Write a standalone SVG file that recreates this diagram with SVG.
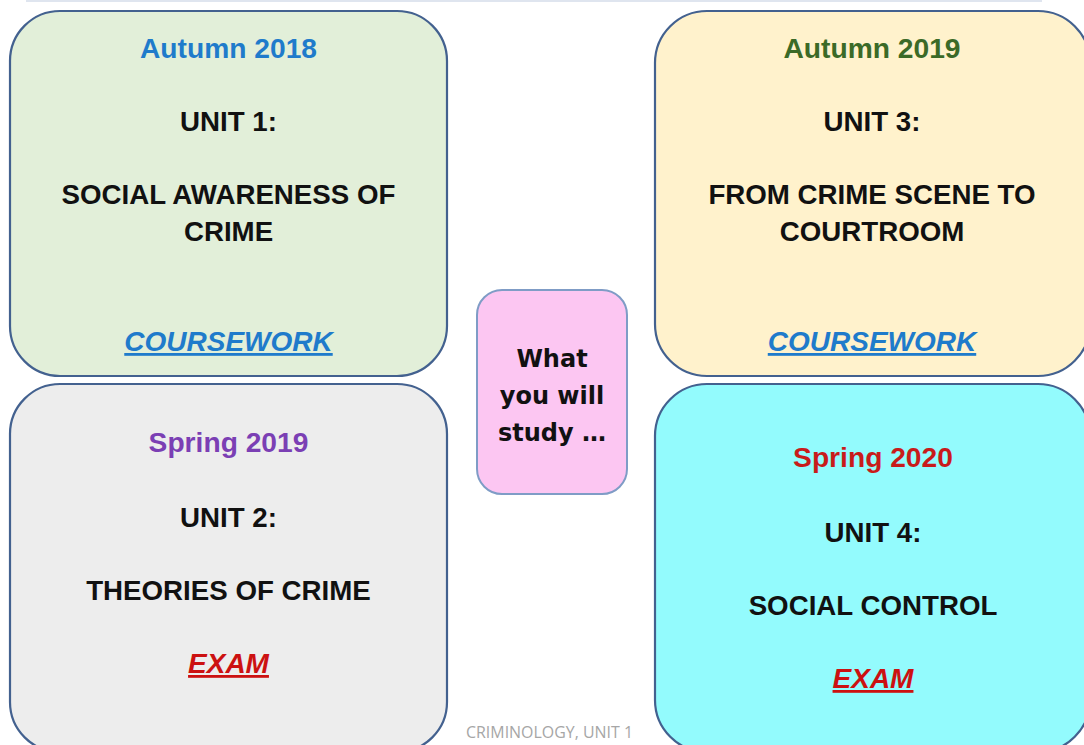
<svg xmlns="http://www.w3.org/2000/svg" width="1084" height="745" viewBox="0 0 1084 745">
<style>
.box{stroke:#43618f;stroke-width:2.2}
.t{font-family:"Liberation Sans",Arial,sans-serif;font-weight:bold;text-anchor:middle}
.h{font-size:28.2px}
.b{font-size:27.7px;fill:#111}
.u{font-size:28px;font-style:italic;text-decoration:underline}
.w{font-family:"DejaVu Sans","Noto Sans",sans-serif;font-weight:bold;font-size:24px;fill:#111;text-anchor:middle}
</style>
<rect width="1084" height="745" fill="#ffffff"/>
<line x1="26" y1="1" x2="1042" y2="1" stroke="#dfe5ef" stroke-width="2"/>
<g id="connectors"></g>
<g id="unit1">
<rect class="box" x="10" y="11" width="437" height="365" rx="50" fill="#e2efd9"/>
<text class="t h" x="228.5" y="58" fill="#1f7bcb">Autumn 2018</text>
<text class="t b" x="228.5" y="131">UNIT 1:</text>
<text class="t b" x="228.5" y="204">SOCIAL AWARENESS OF</text>
<text class="t b" x="228.5" y="241">CRIME</text>
<text class="t u" x="228.5" y="351" fill="#1f7bcb">COURSEWORK</text>
</g>
<g id="unit2">
<rect class="box" x="10" y="384" width="437" height="368" rx="50" fill="#ededed"/>
<text class="t h" x="228.5" y="452" fill="#7b3fb4">Spring 2019</text>
<text class="t b" x="228.5" y="527">UNIT 2:</text>
<text class="t b" x="228.5" y="600">THEORIES OF CRIME</text>
<text class="t u" x="228.5" y="673" fill="#cc1111">EXAM</text>
</g>
<g id="unit3">
<rect class="box" x="655" y="11" width="435" height="365" rx="52" fill="#fff2cc"/>
<text class="t h" x="872" y="58" fill="#3b6a27">Autumn 2019</text>
<text class="t b" x="872" y="131">UNIT 3:</text>
<text class="t b" x="872" y="204">FROM CRIME SCENE TO</text>
<text class="t b" x="872" y="241">COURTROOM</text>
<text class="t u" x="872" y="351" fill="#1f7bcb">COURSEWORK</text>
</g>
<g id="unit4">
<rect class="box" x="655" y="384" width="435" height="368" rx="52" fill="#93fbfd"/>
<text class="t h" x="873" y="467" fill="#c81b1b">Spring 2020</text>
<text class="t b" x="873" y="542">UNIT 4:</text>
<text class="t b" x="873" y="615">SOCIAL CONTROL</text>
<text class="t u" x="873" y="688" fill="#cc1111">EXAM</text>
</g>
<g id="center">
<rect x="477" y="290" width="150" height="204" rx="25" fill="#fcc6f2" stroke="#7f9cc6" stroke-width="2"/>
<text class="w" x="552" y="367">What</text>
<text class="w" x="552" y="404">you will</text>
<text class="w" x="552" y="441">study …</text>
</g>
<g id="footer">
<text x="549.5" y="738" font-family="'Open Sans','Liberation Sans',sans-serif" font-size="16" fill="#a6a6a6" text-anchor="middle" textLength="167" lengthAdjust="spacingAndGlyphs">CRIMINOLOGY, UNIT 1</text>
</g>
</svg>
